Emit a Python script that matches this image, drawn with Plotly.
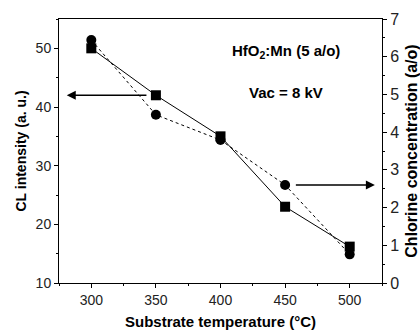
import plotly.graph_objects as go

temps = [300, 350, 400, 450, 500]
cl_intensity = [50.0, 42.0, 35.0, 23.0, 16.2]
chlorine = [6.44, 4.46, 3.79, 2.6, 0.76]

fig = go.Figure()
fig.add_trace(go.Scatter(x=temps, y=cl_intensity, mode="lines+markers",
                         line=dict(color="black", width=1),
                         marker=dict(symbol="square", size=10, color="black"),
                         yaxis="y", showlegend=False))
fig.add_trace(go.Scatter(x=temps, y=chlorine, mode="lines+markers",
                         line=dict(color="black", width=1, dash="dot"),
                         marker=dict(symbol="circle", size=10, color="black"),
                         yaxis="y2", showlegend=False))

FAM = "Liberation Sans, Arial"
font_ticks = dict(family=FAM, size=14, color="#222")
font_ticks_r = dict(family=FAM, size=16, color="#222")

fig.update_layout(
    width=420, height=331,
    margin=dict(l=59, r=38, t=19, b=48),
    plot_bgcolor="white", paper_bgcolor="white",
    xaxis=dict(range=[275, 525], tickvals=[300, 350, 400, 450, 500], automargin=False,
               ticks="outside", ticklen=4, tickcolor="black", showline=True,
               linecolor="black", linewidth=1, mirror=True, showgrid=False, zeroline=False,
               tickfont=font_ticks,
               minor=dict(tickvals=[275, 325, 375, 425, 475, 525], ticks="outside", ticklen=2, tickcolor="black"),
               title=dict(text="<b>Substrate temperature (°C)</b>", font=dict(family=FAM, size=15, color="black"), standoff=9)),
    yaxis=dict(range=[10, 55], tickvals=[10, 20, 30, 40, 50], automargin=False,
               ticks="outside", ticklen=4, tickcolor="black", showline=True,
               linecolor="black", linewidth=1, showgrid=False, zeroline=False,
               tickfont=font_ticks,
               minor=dict(tickvals=[15, 25, 35, 45, 55], ticks="outside", ticklen=2, tickcolor="black"),
               title=dict(text="<b>CL intensity (a. u.)</b>", font=dict(family=FAM, size=14, color="black"), standoff=5)),
    yaxis2=dict(range=[0, 7], tickvals=[0, 1, 2, 3, 4, 5, 6, 7], overlaying="y", side="right", automargin=False,
                ticks="outside", ticklen=4, tickcolor="black", showline=True,
                linecolor="black", linewidth=1, showgrid=False, zeroline=False,
                tickfont=font_ticks_r,
                minor=dict(tickvals=[0.5, 1.5, 2.5, 3.5, 4.5, 5.5, 6.5], ticks="outside", ticklen=2, tickcolor="black"),
                title=dict(text="<b>Chlorine concentration (a/o)</b>", font=dict(family=FAM, size=16, color="black"), standoff=10)),
)

fig.add_annotation(x=281, y=cl_intensity[1], ax=345, ay=cl_intensity[1], xref="x", yref="y",
                   axref="x", ayref="y", showarrow=True, arrowhead=2, arrowsize=1.2,
                   arrowwidth=1.5, arrowcolor="black", text=" ")
fig.add_annotation(x=519.5, y=chlorine[3], ax=456, ay=chlorine[3], xref="x", yref="y2",
                   axref="x", ayref="y2", showarrow=True, arrowhead=2, arrowsize=1.2,
                   arrowwidth=1.5, arrowcolor="black", text=" ")
fig.add_annotation(x=451, y=49.5, xref="x", yref="y", showarrow=False,
                   text="<b>HfO<sub>2</sub>:Mn (5 a/o)</b>", font=dict(family=FAM, size=15, color="black"))
fig.add_annotation(x=451, y=42.4, xref="x", yref="y", showarrow=False,
                   text="<b>Vac = 8 kV</b>", font=dict(family=FAM, size=15, color="black"))

fig.write_html("out.html")
